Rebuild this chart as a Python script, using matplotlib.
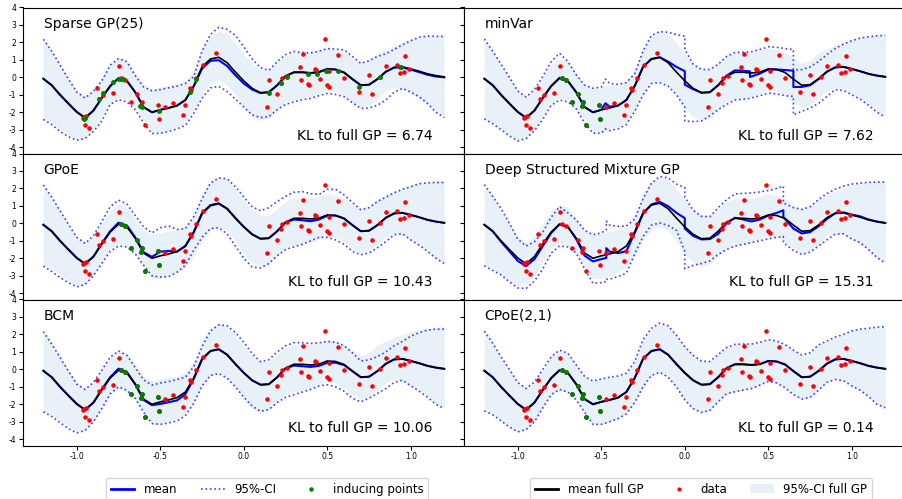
import matplotlib
matplotlib.use("Agg")
import matplotlib.pyplot as plt
from matplotlib.lines import Line2D
from matplotlib.patches import Patch

plt.rcParams['axes.unicode_minus'] = False

# ---------------- data ----------------
GRID_X = [-1.2, -1.15, -1.1, -1.05, -1.0, -0.95, -0.9, -0.85, -0.8, -0.75,
          -0.7, -0.65, -0.6, -0.55, -0.5, -0.45, -0.4, -0.35, -0.3, -0.25,
          -0.2, -0.15, -0.1, -0.05, 0.0, 0.05, 0.1, 0.15, 0.2, 0.25,
          0.3, 0.35, 0.4, 0.45, 0.5, 0.55, 0.6, 0.65, 0.7, 0.75,
          0.8, 0.85, 0.9, 0.95, 1.0, 1.05, 1.1, 1.15, 1.2]

FULL_MEAN = [-0.08, -0.45, -1.0, -1.5, -1.98, -2.32, -1.9, -1.18, -0.5, -0.05,
             -0.2, -0.85, -1.7, -2.0, -1.86, -1.75, -1.62, -1.3, -0.5, 0.6,
             1.05, 1.15, 0.84, 0.3, -0.2, -0.63, -0.88, -0.85, -0.45, 0.07,
             0.29, 0.29, 0.25, 0.3, 0.48, 0.45, 0.28, -0.1, -0.45, -0.42,
             -0.1, 0.32, 0.57, 0.6, 0.48, 0.35, 0.2, 0.1, 0.03]
FULL_UPPER = [2.19, 1.5, 0.72, 0.0, -0.75, -1.1, -0.72, 0.0, 0.72, 1.1,
              0.92, 0.25, -0.4, -0.67, -0.55, -0.45, -0.38, -0.22, 0.45, 1.7,
              2.35, 2.65, 2.5, 1.95, 1.3, 0.8, 0.47, 0.45, 0.85, 1.25,
              1.43, 1.45, 1.45, 1.55, 1.7, 1.62, 1.42, 1.1, 0.82, 0.95,
              1.4, 1.62, 1.85, 2.0, 2.2, 2.3, 2.35, 2.42, 2.44]
FULL_LOWER = [-2.38, -2.6, -2.95, -3.3, -3.58, -3.45, -3.0, -2.2, -1.45, -1.15,
              -1.3, -1.75, -2.45, -3.15, -3.15, -3.0, -2.82, -2.55, -1.9, -1.0,
              -0.35, -0.17, -0.45, -1.0, -1.75, -2.25, -2.47, -2.35, -1.85, -1.4,
              -1.28, -1.18, -1.1, -0.9, -0.68, -0.78, -1.05, -1.45, -1.7, -1.6,
              -1.2, -0.75, -0.58, -0.65, -0.95, -1.2, -1.55, -2.0, -2.2]

SPARSE_MEAN = [-0.08, -0.45, -1.0, -1.5, -1.98, -2.32, -1.9, -1.18, -0.5, -0.05,
               -0.2, -0.85, -1.7, -2.0, -1.86, -1.75, -1.62, -1.3, -0.52, 0.5,
               0.95, 0.98, 0.65, 0.12, -0.35, -0.7, -0.9, -0.85, -0.45, 0.07,
               0.29, 0.29, 0.25, 0.3, 0.48, 0.45, 0.28, -0.1, -0.45, -0.42,
               -0.1, 0.32, 0.56, 0.57, 0.44, 0.3, 0.15, 0.05, 0.0]
SPARSE_UPPER = [2.18, 1.5, 0.71, -0.1, -0.85, -1.18, -0.8, -0.2, 0.7, 1.08,
                0.9, 0.1, -0.55, -0.77, -0.7, -0.6, -0.5, -0.35, 0.04, 1.5,
                2.45, 2.87, 2.75, 2.4, 1.75, 1.05, 0.55, 0.4, 0.9, 1.3,
                1.48, 1.42, 1.4, 1.5, 1.65, 1.62, 1.57, 1.2, 0.8, 0.95,
                1.2, 1.35, 1.6, 1.86, 2.1, 2.3, 2.36, 2.35, 2.34]
SPARSE_LOWER = [-2.41, -2.7, -3.1, -3.4, -3.6, -3.5, -3.1, -2.5, -1.55, -1.28,
                -1.4, -1.85, -2.6, -3.22, -3.2, -3.1, -2.95, -2.75, -2.07, -1.2,
                -0.6, -0.52, -0.8, -1.25, -1.7, -2.15, -2.3, -2.25, -1.85, -1.55,
                -1.4, -1.28, -1.2, -1.05, -0.92, -0.98, -1.11, -1.45, -1.78, -1.75,
                -1.6, -1.3, -0.85, -0.63, -0.85, -1.11, -1.5, -2.0, -2.3]

GPOE_MEAN = [-0.08, -0.45, -1.0, -1.5, -1.98, -2.32, -1.9, -1.15, -0.45, 0.04,
             -0.12, -0.8, -1.65, -1.92, -1.62, -1.58, -1.62, -1.3, -0.52, 0.55,
             1.02, 1.13, 0.84, 0.3, -0.2, -0.63, -0.88, -0.85, -0.45, 0.05,
             0.22, 0.18, 0.12, 0.22, 0.44, 0.45, 0.28, -0.1, -0.45, -0.42,
             -0.1, 0.32, 0.57, 0.6, 0.48, 0.35, 0.2, 0.1, 0.03]
GPOE_UPPER = [2.2, 1.5, 0.72, -0.05, -0.8, -1.15, -0.7, 0.1, 0.95, 1.33,
              1.1, 0.45, -0.2, -0.55, -0.25, -0.15, -0.35, -0.3, 0.38, 1.4,
              2.3, 2.6, 2.55, 2.1, 1.5, 0.95, 0.72, 0.9, 1.25, 1.55,
              1.78, 1.82, 1.7, 1.65, 1.95, 1.95, 1.63, 1.2, 0.78, 0.9,
              1.25, 1.5, 1.75, 1.95, 2.1, 2.27, 2.32, 2.34, 2.34]
GPOE_LOWER = [-2.45, -2.75, -3.1, -3.4, -3.64, -3.5, -3.0, -2.3, -1.6, -1.3,
              -1.35, -1.75, -2.4, -3.0, -3.07, -3.05, -2.8, -2.4, -1.55, -0.8,
              -0.3, -0.25, -0.6, -1.3, -2.0, -2.5, -2.55, -2.3, -1.85, -1.5,
              -1.35, -1.2, -1.0, -0.8, -0.8, -0.95, -1.2, -1.6, -1.8, -1.7,
              -1.4, -1.05, -0.65, -0.6, -0.95, -1.25, -1.6, -2.0, -2.3]

BCM_MEAN = [-0.08, -0.45, -1.0, -1.5, -1.98, -2.32, -1.9, -1.15, -0.45, 0.04,
            -0.15, -0.85, -1.75, -2.05, -1.98, -1.88, -1.78, -1.42, -0.55, 0.57,
            1.05, 1.15, 0.84, 0.3, -0.2, -0.63, -0.88, -0.85, -0.45, 0.05,
            0.22, 0.18, 0.14, 0.2, 0.38, 0.38, 0.25, -0.1, -0.45, -0.42,
            -0.1, 0.32, 0.57, 0.6, 0.48, 0.35, 0.2, 0.1, 0.03]
BCM_UPPER = [2.16, 1.45, 0.68, -0.1, -0.85, -1.15, -0.75, -0.05, 0.7, 1.05,
             0.8, 0.1, -0.6, -0.9, -0.78, -0.7, -0.58, -0.45, 0.15, 1.3,
             2.2, 2.55, 2.5, 2.1, 1.55, 0.9, 0.44, 0.55, 1.0, 1.35,
             1.53, 1.52, 1.48, 1.52, 1.6, 1.55, 1.35, 0.95, 0.48, 0.55,
             0.73, 1.0, 1.35, 1.6, 1.9, 2.1, 2.25, 2.3, 2.3]
BCM_LOWER = [-2.43, -2.7, -3.05, -3.4, -3.64, -3.5, -3.0, -2.25, -1.4, -1.0,
             -1.2, -1.65, -2.45, -3.1, -3.15, -3.07, -2.95, -2.65, -1.95, -0.95,
             -0.35, -0.24, -0.5, -1.0, -1.6, -2.1, -2.4, -2.3, -1.9, -1.6,
             -1.45, -1.3, -1.15, -0.95, -0.88, -1.0, -1.25, -1.65, -1.86, -1.65,
             -1.38, -1.1, -0.75, -0.62, -0.95, -1.25, -1.6, -2.0, -2.24]

MINVAR_X = [-1.2, -1.15, -1.1, -1.05, -1.0, -0.95, -0.9, -0.85, -0.8, -0.75,
            -0.7, -0.65, -0.6, -0.55, -0.5, -0.475, -0.45, -0.4, -0.35, -0.3,
            -0.25, -0.2, -0.15, -0.1, -0.05, 0.0, 0.0, 0.05, 0.1, 0.15,
            0.2, 0.25, 0.3, 0.35, 0.39, 0.39, 0.45, 0.5, 0.55, 0.6,
            0.65, 0.65, 0.7, 0.75, 0.8, 0.85, 0.9, 0.95, 1.0, 1.05,
            1.1, 1.15, 1.2]
MINVAR_MEAN = [-0.08, -0.45, -1.0, -1.5, -1.98, -2.32, -1.9, -1.18, -0.5, -0.03,
               -0.22, -0.85, -1.7, -2.0, -1.86, -1.48, -1.68, -1.62, -1.3, -0.5,
               0.6, 1.05, 1.15, 0.9, 0.6, 0.35, -0.42, -0.68, -0.88, -0.85,
               -0.45, 0.1, 0.4, 0.38, 0.34, 0.02, 0.22, 0.45, 0.45, 0.42,
               0.38, -0.55, -0.55, -0.45, -0.1, 0.32, 0.57, 0.6, 0.48, 0.35,
               0.2, 0.1, 0.03]
MINVAR_UPPER = [2.2, 1.5, 0.75, 0.0, -0.78, -1.13, -0.7, 0.05, 0.9, 1.38,
                0.9, 0.15, -0.45, -0.62, -0.56, -0.1, -0.35, -0.4, -0.3, 0.2,
                1.5, 2.4, 2.62, 2.58, 2.45, 2.36, 1.59, 0.75, 0.45, 0.45,
                0.75, 1.2, 1.42, 1.44, 1.45, 1.45, 1.6, 1.75, 1.72, 1.65,
                1.59, 0.44, 0.44, 0.6, 0.9, 1.3, 1.65, 1.9, 2.1, 2.25,
                2.32, 2.38, 2.4]
MINVAR_LOWER = [-2.38, -2.65, -3.0, -3.35, -3.64, -3.5, -3.05, -2.4, -1.6, -1.3,
                -1.4, -1.8, -2.6, -3.2, -3.2, -2.95, -3.05, -2.95, -2.7, -1.95,
                -1.0, -0.35, -0.3, -0.5, -1.0, -1.7, -2.5, -2.53, -2.5, -2.2,
                -1.85, -1.55, -1.3, -1.25, -1.2, -1.2, -1.05, -0.9, -0.95, -1.05,
                -1.09, -2.14, -1.95, -1.75, -1.5, -1.1, -0.7, -0.75, -1.0, -1.25,
                -1.6, -2.0, -2.28]

DSMGP_X = [-1.2, -1.15, -1.1, -1.05, -1.0, -0.95, -0.9, -0.85, -0.8, -0.75,
           -0.7, -0.65, -0.6, -0.55, -0.5, -0.47, -0.47, -0.45, -0.4, -0.35,
           -0.3, -0.25, -0.2, -0.15, -0.1, -0.05, 0.0, 0.0, 0.05, 0.1,
           0.15, 0.2, 0.25, 0.3, 0.35, 0.4, 0.45, 0.5, 0.55, 0.59,
           0.59, 0.65, 0.7, 0.75, 0.8, 0.85, 0.9, 0.95, 1.0, 1.05,
           1.1, 1.15, 1.2]
DSMGP_MEAN = [-0.08, -0.45, -1.05, -1.6, -2.15, -2.45, -2.05, -1.3, -0.55, -0.05,
              -0.2, -0.9, -1.85, -2.18, -2.05, -1.98, -1.42, -1.62, -1.7, -1.6,
              -0.55, 0.55, 1.08, 1.23, 0.98, 0.6, 0.3, -0.3, -0.72, -0.92,
              -0.9, -0.6, 0.0, 0.32, 0.22, 0.11, 0.22, 0.45, 0.6, 0.75,
              0.36, -0.3, -0.58, -0.5, -0.17, 0.25, 0.58, 0.63, 0.5, 0.4,
              0.22, 0.1, 0.02]
DSMGP_UPPER = [2.22, 1.55, 0.85, 0.0, -0.9, -1.3, -1.05, -0.5, 0.35, 0.95,
               0.6, 0.2, -0.4, -0.65, -0.55, -0.36, 0.12, -0.1, -0.17, -0.15,
               0.25, 1.4, 2.3, 2.68, 2.6, 2.25, 2.05, 1.5, 0.75, 0.4,
               0.38, 0.9, 1.35, 1.68, 1.72, 1.74, 1.8, 1.88, 2.0, 2.13,
               1.17, 0.9, 0.8, 0.95, 1.36, 1.7, 1.95, 2.13, 2.25, 2.3,
               2.35, 2.36, 2.36]
DSMGP_LOWER = [-2.43, -2.7, -2.95, -3.35, -3.7, -3.72, -3.3, -2.6, -1.7, -1.3,
               -1.35, -1.7, -2.6, -3.43, -3.4, -3.33, -3.2, -3.2, -3.05, -2.85,
               -1.75, -0.75, -0.1, 0.02, -0.12, -0.4, -1.6, -2.6, -2.4, -2.3,
               -2.15, -1.78, -1.5, -1.3, -1.2, -1.1, -1.0, -0.88, -0.8, -0.75,
               -1.1, -1.55, -1.78, -1.65, -1.3, -0.95, -0.62, -0.6, -0.9, -1.1,
               -1.5, -1.95, -2.28]

DATA_X = [-0.962, -0.955, -0.945, -0.952, -0.926, -0.877, -0.864, -0.842, -0.785, -0.749,
          -0.736, -0.710, -0.673, -0.641, -0.610, -0.617, -0.594, -0.512, -0.509, -0.470,
          -0.422, -0.364, -0.353, -0.324, -0.319, -0.289, -0.244, -0.169, 0.137, 0.151,
          0.201, 0.224, 0.230, 0.259, 0.334, 0.343, 0.352, 0.384, 0.388, 0.425,
          0.435, 0.454, 0.487, 0.499, 0.509, 0.509, 0.564, 0.600, 0.689, 0.747,
          0.765, 0.815, 0.851, 0.916, 0.937, 0.959, 0.965, 0.991]
DATA_Y = [-2.30, -2.25, -2.20, -2.73, -2.90, -0.62, -1.24, -1.00, -0.87, 0.63,
          -0.03, -0.16, -1.41, -0.98, -1.40, -1.65, -2.70, -1.58, -2.40, -1.72,
          -1.47, -2.15, -1.58, -0.60, -0.74, -0.04, 0.73, 1.38, -1.67, -0.13,
          -0.95, -0.30, -0.06, 0.10, 0.59, -0.13, 1.33, -0.36, -0.42, 0.46,
          0.44, -0.08, 2.20, -0.42, -0.54, 0.36, 1.30, -0.03, -0.85, 0.14,
          -0.95, 0.02, 0.64, 0.70, 0.26, 0.31, 1.25, 0.45]

CLUSTER_IND_X = [-0.736, -0.710, -0.673, -0.641, -0.610, -0.617, -0.594, -0.512, -0.509]
CLUSTER_IND_Y = [-0.03, -0.16, -1.41, -0.98, -1.40, -1.65, -2.70, -1.58, -2.40]

SPARSE_IND_X = [-0.958, -0.948, -0.865, -0.845, -0.785, -0.750, -0.737, -0.725, -0.620, -0.612,
                -0.510, -0.325, -0.289, 0.153, 0.223, 0.257, 0.386, 0.438, 0.490, 0.500,
                0.564, 0.689, 0.815, 0.936, 0.940]
SPARSE_IND_Y = [-2.36, -2.30, -1.26, -0.92, -0.25, -0.08, -0.10, -0.12, -1.65, -1.72,
                -1.95, -0.84, -0.10, -0.88, -0.31, 0.04, 0.19, 0.19, 0.36, 0.38,
                0.38, -0.54, 0.00, 0.57, 0.57]

TITLES = ["Sparse GP(25)", "minVar", "GPoE", "Deep Structured Mixture GP", "BCM", "CPoE(2,1)"]
KL_VALUES = ["6.74", "7.62", "10.43", "15.31", "10.06", "0.14"]
Y_TICKS = [-4, -3, -2, -1, 0, 1, 2, 3, 4]
X_TICKS = [-1.0, -0.5, 0.0, 0.5, 1.0]

PANELS = [
    (GRID_X, SPARSE_MEAN, SPARSE_UPPER, SPARSE_LOWER, SPARSE_IND_X, SPARSE_IND_Y),
    (MINVAR_X, MINVAR_MEAN, MINVAR_UPPER, MINVAR_LOWER, CLUSTER_IND_X, CLUSTER_IND_Y),
    (GRID_X, GPOE_MEAN, GPOE_UPPER, GPOE_LOWER, CLUSTER_IND_X, CLUSTER_IND_Y),
    (DSMGP_X, DSMGP_MEAN, DSMGP_UPPER, DSMGP_LOWER, [], []),
    (GRID_X, BCM_MEAN, BCM_UPPER, BCM_LOWER, CLUSTER_IND_X, CLUSTER_IND_Y),
    (GRID_X, FULL_MEAN, FULL_UPPER, FULL_LOWER, CLUSTER_IND_X, CLUSTER_IND_Y),
]

# ---------------- figure ----------------
W, H = 902, 499
fig = plt.figure(figsize=(W / 100, H / 100), dpi=100)

col_left = [23.3, 464.3]
col_w = 441.0
row_top = [7.5, 153.5, 299.5]
row_h = 146.0

BAND_COLOR = '#1f77b4'

for i, (mx, mmean, mup, mlo, ix, iy) in enumerate(PANELS):
    r, c = divmod(i, 2)
    ax = fig.add_axes([col_left[c] / W, 1 - (row_top[r] + row_h) / H, col_w / W, row_h / H])
    ax.fill_between(GRID_X, FULL_LOWER, FULL_UPPER, color=BAND_COLOR, alpha=0.1, lw=0)
    ax.plot(mx, mup, color='blue', ls=':', lw=1.2, alpha=0.75)
    ax.plot(mx, mlo, color='blue', ls=':', lw=1.2, alpha=0.75)
    ax.plot(mx, mmean, color='blue', lw=1.5)
    ax.plot(GRID_X, FULL_MEAN, color='black', lw=1.2)
    ax.plot(DATA_X, DATA_Y, 'r.', ms=4.5)
    if ix:
        ax.plot(ix, iy, '.', color='green', ms=5)
    ax.set_xlim(-1.32, 1.32)
    ax.set_ylim(-4.36, 4.0)
    ax.set_yticks(Y_TICKS)
    ax.set_xticks(X_TICKS)
    ax.tick_params(labelsize=5.5, length=3, pad=2, width=0.8)
    if c == 1:
        ax.tick_params(labelleft=False)
    if r < 2:
        ax.tick_params(bottom=False, labelbottom=False)
    ax.text(0.046, 0.89, TITLES[i], transform=ax.transAxes, fontsize=10,
            ha='left', va='center')
    ax.text(0.928, 0.12, "KL to full GP = " + KL_VALUES[i], transform=ax.transAxes,
            fontsize=10, ha='right', va='center')

h_left = [Line2D([], [], color='blue', lw=2),
          Line2D([], [], color='blue', ls=':', lw=1.2, alpha=0.75),
          Line2D([], [], color='green', marker='.', ls='none', ms=4.5)]
fig.legend(h_left, ['mean', '95%-CI', 'inducing points'], ncol=3, fontsize=8.5,
           loc='upper left', bbox_to_anchor=(106 / W, 1 - 478 / H), borderaxespad=0)

h_right = [Line2D([], [], color='black', lw=2),
           Line2D([], [], color='red', marker='.', ls='none', ms=4),
           Patch(facecolor=BAND_COLOR, alpha=0.1, edgecolor='none')]
fig.legend(h_right, ['mean full GP', 'data', '95%-CI full GP'], ncol=3, fontsize=8.5,
           loc='upper left', bbox_to_anchor=(530 / W, 1 - 478 / H), borderaxespad=0)

fig.savefig("out.png", dpi=100)
